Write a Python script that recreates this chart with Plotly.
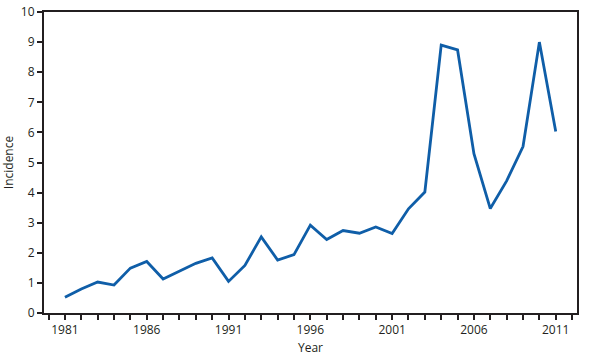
import plotly.graph_objects as go

years = list(range(1981, 2012))
incidence = [0.52, 0.80, 1.03, 0.93, 1.49, 1.71, 1.13, 1.39, 1.65, 1.83,
             1.05, 1.58, 2.53, 1.76, 1.94, 2.92, 2.44, 2.74, 2.65, 2.86,
             2.64, 3.46, 4.02, 8.90, 8.74, 5.29, 3.47, 4.39, 5.53, 9.00, 6.03]
x_tick_vals = [1981, 1986, 1991, 1996, 2001, 2006, 2011]
y_tick_vals = list(range(0, 11))

ink = "#231f20"
fig = go.Figure(go.Scatter(x=years, y=incidence, mode="lines",
                           line=dict(color="#0f5ea8", width=2.8)))

fig.update_layout(
    width=602, height=356,
    margin=dict(l=44, r=25, t=12, b=43),
    plot_bgcolor="white", paper_bgcolor="white",
    font=dict(family="Open Sans", size=12, color=ink),
    showlegend=False,
)
fig.update_xaxes(
    range=[1979.72, 2012.3], tickvals=x_tick_vals, automargin=False,
    ticks="outside", ticklen=5, tickwidth=1.5, tickcolor=ink,
    minor=dict(dtick=1, tick0=1981, ticks="outside", ticklen=5, tickwidth=1.5, tickcolor=ink, showgrid=False),
    showline=True, linewidth=2, linecolor=ink, mirror=True,
    showgrid=False, zeroline=False,
    title=dict(text="Year", font=dict(size=12)),
)
fig.update_yaxes(
    range=[0, 10], tickvals=y_tick_vals, automargin=False,
    ticks="outside", ticklen=5, tickwidth=1.5, tickcolor=ink,
    showline=True, linewidth=2, linecolor=ink, mirror=True,
    showgrid=False, zeroline=False,
    title=dict(text="Incidence", font=dict(size=12)),
)
fig.write_html("out.html", config={"displayModeBar": False},
               post_script="document.body.style.margin='0';document.body.style.overflow='hidden';")
